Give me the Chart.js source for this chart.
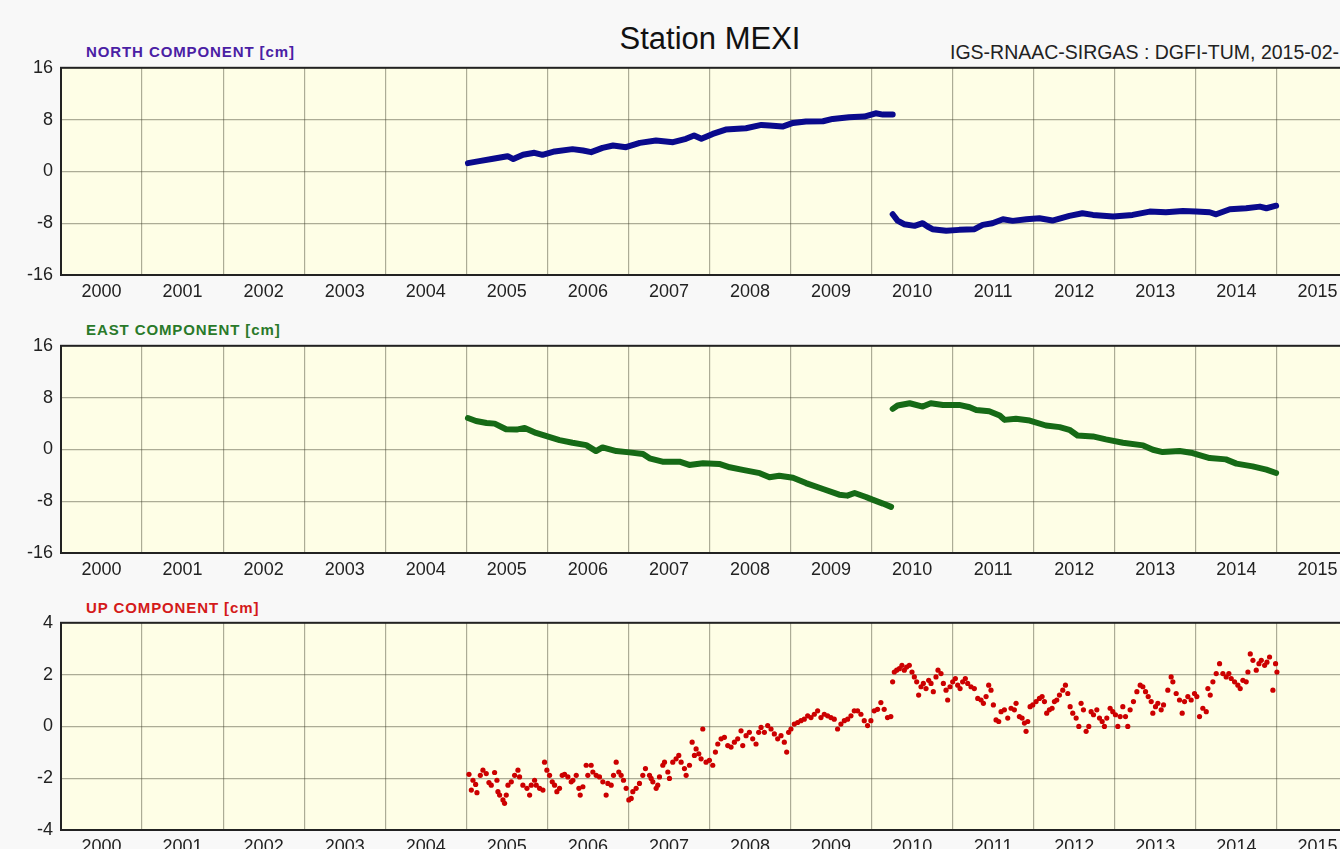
<!DOCTYPE html>
<html>
<head>
<meta charset="utf-8">
<script src="https://cdn.jsdelivr.net/npm/chart.js@4.4.1/dist/chart.umd.min.js"></script>
<style>
  body { margin: 0; background: #f8f8f8; overflow: hidden; width: 1340px; height: 849px; position: relative;
         font-family: "Liberation Sans", Arial, sans-serif; }
  .panel { position: absolute; left: 0; }
  .comp { position: absolute; left: 86px; font-weight: bold; font-size: 15px; line-height: 18px; letter-spacing: 0.9px; white-space: nowrap; }
  #title { position: absolute; left: 0; width: 1420px; top: 23px; text-align: center; font-size: 31px; line-height: 32px; color: #111; }
  #source { position: absolute; left: 950px; top: 41px; font-size: 19.5px; line-height: 22px; color: #222; white-space: nowrap; }
</style>
</head>
<body>
<div id="title">Station MEXI</div>
<div id="source">IGS-RNAAC-SIRGAS : DGFI-TUM, 2015-02-</div>

<div class="comp" style="top:43px;color:#4a20a4">NORTH COMPONENT [cm]</div>
<div class="comp" style="top:321px;color:#2a7a2a">EAST COMPONENT [cm]</div>
<div class="comp" style="top:599px;color:#d41a1a">UP COMPONENT [cm]</div>

<canvas id="north" class="panel" width="1400" height="251" style="top:49px"></canvas>
<canvas id="east" class="panel" width="1400" height="251" style="top:327px"></canvas>
<canvas id="up" class="panel" width="1400" height="251" style="top:604px"></canvas>

<script>
"use strict";

// station coordinate time series (decimal years / cm)
var northYears1 = [2005.02,2005.16,2005.33,2005.49,2005.51,2005.58,2005.70,2005.84,2005.94,2006.09,2006.31,2006.44,2006.54,2006.68,2006.81,2006.97,2007.14,2007.34,2007.55,2007.71,2007.81,2007.90,2008.04,2008.20,2008.45,2008.64,2008.74,2008.90,2009.03,2009.19,2009.40,2009.52,2009.72,2009.91,2010.05,2010.14,2010.26];
var northValues1 = [1.28,1.59,1.95,2.31,2.35,1.9,2.56,2.87,2.56,3.08,3.44,3.23,2.97,3.64,4.0,3.74,4.41,4.77,4.51,5.03,5.54,5.03,5.79,6.46,6.67,7.18,7.08,6.92,7.49,7.69,7.74,8.1,8.36,8.46,8.97,8.77,8.77];
var northYears2 = [2010.26,2010.32,2010.40,2010.53,2010.63,2010.69,2010.75,2010.92,2011.08,2011.27,2011.37,2011.49,2011.62,2011.74,2011.91,2012.07,2012.23,2012.44,2012.60,2012.73,2012.98,2013.22,2013.43,2013.63,2013.84,2014.00,2014.17,2014.25,2014.42,2014.62,2014.79,2014.87,2014.99];
var northValues2 = [-6.62,-7.59,-8.15,-8.41,-8.0,-8.51,-8.92,-9.18,-9.03,-8.92,-8.26,-8.0,-7.38,-7.64,-7.38,-7.23,-7.59,-6.87,-6.46,-6.72,-6.97,-6.72,-6.21,-6.31,-6.1,-6.21,-6.31,-6.62,-5.85,-5.69,-5.44,-5.69,-5.3];

var eastYears1 = [2005.02,2005.12,2005.25,2005.35,2005.49,2005.62,2005.72,2005.86,2005.99,2006.15,2006.31,2006.48,2006.60,2006.68,2006.85,2007.01,2007.18,2007.26,2007.42,2007.63,2007.75,2007.92,2008.12,2008.25,2008.41,2008.62,2008.74,2008.86,2009.03,2009.19,2009.40,2009.60,2009.70,2009.79,2009.93,2010.01,2010.14,2010.24];
var eastValues1 = [4.85,4.39,4.08,3.98,3.11,3.06,3.32,2.55,2.04,1.43,1.02,0.66,-0.26,0.31,-0.26,-0.46,-0.71,-1.38,-1.89,-1.89,-2.4,-2.14,-2.24,-2.76,-3.16,-3.67,-4.29,-4.08,-4.39,-5.2,-6.12,-6.99,-7.14,-6.73,-7.35,-7.76,-8.37,-8.88];
var eastYears2 = [2010.26,2010.32,2010.47,2010.63,2010.73,2010.88,2011.08,2011.21,2011.29,2011.45,2011.58,2011.64,2011.78,2011.95,2012.15,2012.32,2012.44,2012.54,2012.73,2012.89,2013.10,2013.35,2013.47,2013.59,2013.80,2013.96,2014.17,2014.37,2014.50,2014.70,2014.87,2014.99];
var eastValues2 = [6.26,6.77,7.13,6.62,7.13,6.87,6.87,6.51,6.1,5.9,5.23,4.56,4.72,4.46,3.69,3.44,3.03,2.15,2.0,1.54,1.03,0.62,-0.05,-0.41,-0.26,-0.56,-1.33,-1.54,-2.2,-2.62,-3.13,-3.64];

var upYears = [2005.033,2005.082,2005.062,2005.115,2005.131,2005.173,2005.205,2005.246,2005.279,2005.308,2005.349,2005.378,2005.390,2005.411,2005.452,2005.472,2005.493,2005.514,2005.555,2005.596,2005.637,2005.657,2005.698,2005.748,2005.781,2005.801,2005.842,2005.863,2005.904,2005.945,2005.965,2005.994,2006.027,2006.060,2006.089,2006.117,2006.150,2006.183,2006.212,2006.253,2006.294,2006.315,2006.356,2006.389,2006.405,2006.438,2006.479,2006.499,2006.540,2006.561,2006.602,2006.643,2006.684,2006.725,2006.746,2006.787,2006.816,2006.849,2006.881,2006.910,2006.939,2006.972,2007.005,2007.034,2007.054,2007.095,2007.136,2007.177,2007.210,2007.260,2007.280,2007.301,2007.342,2007.362,2007.383,2007.424,2007.445,2007.486,2007.506,2007.547,2007.588,2007.621,2007.650,2007.691,2007.712,2007.753,2007.786,2007.814,2007.835,2007.868,2007.896,2007.917,2007.958,2007.999,2008.040,2008.073,2008.102,2008.143,2008.184,2008.225,2008.266,2008.307,2008.348,2008.389,2008.410,2008.451,2008.492,2008.533,2008.574,2008.607,2008.636,2008.677,2008.718,2008.759,2008.800,2008.841,2008.882,2008.923,2008.952,2008.976,2009.005,2009.046,2009.087,2009.128,2009.169,2009.211,2009.252,2009.293,2009.334,2009.375,2009.416,2009.457,2009.498,2009.539,2009.580,2009.621,2009.663,2009.704,2009.745,2009.786,2009.827,2009.868,2009.909,2009.950,2009.991,2010.032,2010.073,2010.114,2010.155,2010.196,2010.237,
  2010.259,2010.280,2010.309,2010.342,2010.374,2010.403,2010.432,2010.465,2010.498,2010.527,2010.556,2010.580,2010.609,2010.638,2010.671,2010.704,2010.733,2010.761,2010.794,2010.819,2010.856,2010.885,2010.918,2010.938,2010.967,2011.000,2011.033,2011.062,2011.091,2011.123,2011.156,2011.185,2011.226,2011.267,2011.309,2011.350,2011.379,2011.412,2011.444,2011.473,2011.502,2011.535,2011.568,2011.597,2011.638,2011.679,2011.720,2011.761,2011.782,2011.823,2011.856,2011.885,2011.905,2011.926,2011.955,2011.988,2012.029,2012.070,2012.103,2012.132,2012.160,2012.193,2012.226,2012.255,2012.284,2012.317,2012.358,2012.391,2012.420,2012.449,2012.481,2012.523,2012.556,2012.584,2012.613,2012.646,2012.679,2012.708,2012.737,2012.778,2012.811,2012.844,2012.872,2012.901,2012.942,2012.975,2013.008,2013.037,2013.066,2013.099,2013.132,2013.160,2013.189,2013.230,2013.272,2013.313,2013.346,2013.379,2013.412,2013.449,2013.469,2013.502,2013.531,2013.572,2013.601,2013.654,2013.695,2013.716,2013.757,2013.798,2013.831,2013.860,2013.901,2013.942,2013.983,2014.012,2014.045,2014.086,2014.128,2014.148,2014.177,2014.210,2014.251,2014.292,2014.333,2014.374,2014.407,2014.436,2014.477,2014.518,2014.547,2014.580,2014.621,2014.642,2014.671,2014.704,2014.745,2014.778,2014.807,2014.848,2014.877,2014.909,2014.950,2014.983,2015.000];
var upValues = [-1.85,-2.08,-2.46,-2.24,-2.56,-1.89,-1.69,-1.82,-2.17,-2.27,-1.78,-2.08,-2.52,-2.65,-2.84,-2.97,-2.65,-2.27,-2.14,-1.89,-1.69,-1.95,-2.27,-2.39,-2.65,-2.27,-2.08,-2.27,-2.39,-2.46,-1.38,-1.69,-1.89,-2.14,-2.27,-2.52,-2.39,-1.89,-1.85,-1.95,-2.14,-2.08,-1.89,-2.39,-2.65,-2.33,-1.50,-1.89,-1.50,-1.76,-1.89,-1.95,-2.14,-2.65,-2.20,-2.27,-1.89,-1.38,-1.76,-1.89,-2.08,-2.39,-2.84,-2.78,-2.52,-2.39,-2.20,-1.89,-1.63,-1.89,-2.01,-2.14,-2.39,-2.27,-1.95,-1.50,-1.38,-1.76,-2.01,-1.38,-1.25,-1.12,-1.38,-1.63,-1.89,-1.50,-0.61,-1.12,-0.87,-1.06,-1.25,-0.10,-1.38,-1.31,-1.50,-0.99,-0.68,-0.48,-0.42,-0.74,-0.80,-0.61,-0.48,-0.17,-0.74,-0.36,-0.23,-0.48,-0.68,-0.23,-0.04,-0.23,0.03,-0.10,-0.29,-0.48,-0.36,-0.61,-0.99,-0.23,-0.10,0.09,0.15,0.22,0.28,0.41,0.34,0.47,0.60,0.34,0.47,0.41,0.34,0.28,-0.10,0.09,0.22,0.28,0.41,0.60,0.60,0.47,0.22,0.03,0.22,0.60,0.66,0.92,0.66,0.34,0.38,
  1.72,2.10,2.17,2.23,2.36,2.17,2.29,2.36,2.10,1.91,1.72,1.21,1.53,1.66,1.46,1.78,1.66,1.34,1.91,2.17,2.04,1.66,1.40,1.02,1.53,1.72,1.85,1.59,1.46,1.72,1.85,1.66,1.53,1.46,1.08,1.02,0.89,1.15,1.59,1.40,0.83,0.25,0.19,0.57,0.64,0.32,0.70,0.64,0.89,0.38,0.32,0.13,-0.19,0.19,0.76,0.83,0.96,1.08,1.15,0.96,0.51,0.64,0.70,0.96,1.02,1.21,1.40,1.59,1.27,0.76,0.51,0.32,0.00,0.89,0.64,-0.19,0.00,0.57,0.45,0.64,0.32,0.19,0.00,0.32,0.70,0.57,0.45,0.00,0.38,0.76,0.38,0.00,0.64,0.96,1.34,1.59,1.53,1.34,1.15,0.96,0.51,0.76,0.89,0.64,0.83,1.40,1.91,1.72,1.27,1.02,0.51,0.96,1.15,1.02,1.27,1.15,0.38,0.70,0.57,1.46,1.21,1.72,2.04,2.42,2.04,1.91,2.04,1.85,1.72,1.59,1.46,1.78,1.72,2.10,2.80,2.55,2.17,2.42,2.55,2.36,2.48,2.68,1.40,2.42,2.10];

var yearMin = 2000, yearMax = 2016;
var bigTicks = [-16, -8, 0, 8, 16];
var upTicks = [-4, -2, 0, 2, 4];

var plotBackground = '#fefee6';
var northColor = '#0a0a8c';
var eastColor = '#166a16';
var upColor = '#cc0000';

function toPoints(xs, ys) {
	var pts = [];
	for (var i = 0; i < xs.length; i++) {
		pts.push({ x: xs[i], y: ys[i] });
	}
	return pts;
}

// fills the plot area and draws the black frame around it
var framePlugin = {
	id: 'frame',
	beforeDraw: function(chart) {
		var a = chart.chartArea, ctx = chart.ctx;
		ctx.save();
		ctx.fillStyle = plotBackground;
		ctx.fillRect(a.left, a.top, a.right - a.left, a.bottom - a.top);
		ctx.restore();
	},
	afterDraw: function(chart) {
		var a = chart.chartArea, ctx = chart.ctx;
		ctx.save();
		ctx.strokeStyle = '#222';
		ctx.lineWidth = 2;
		ctx.strokeRect(a.left, a.top, a.right - a.left, a.bottom - a.top);
		ctx.restore();
	}
};

function lineSet(xs, ys, color) {
	return {
		data: toPoints(xs, ys),
		showLine: true,
		borderColor: color,
		backgroundColor: color,
		borderWidth: 6,
		borderCapStyle: 'round',
		borderJoinStyle: 'round',
		pointRadius: 0,
		tension: 0
	};
}

function makePanel(id, datasets, yTicks) {
	var ctx = document.getElementById(id).getContext('2d');
	return new Chart(ctx, {
		type: 'scatter',
		data: { datasets: datasets },
		options: {
			responsive: false,
			animation: false,
			layout: { padding: { top: 0, right: 42, left: 0, bottom: 0 } },
			plugins: { legend: { display: false }, tooltip: { enabled: false } },
			scales: {
				x: {
					type: 'linear',
					min: yearMin,
					max: yearMax,
					afterFit: function(s) { s.height = 25; },
					border: { display: false },
					grid: { color: 'rgba(60,60,40,0.42)', lineWidth: 1.2, drawTicks: false },
					ticks: {
						stepSize: 1,
						padding: 6,
						labelOffset: 40.5,
						maxRotation: 0,
						autoSkip: false,
						color: '#222',
						font: { family: '"Liberation Sans", Arial, sans-serif', size: 18 },
						callback: function(v) { return v < yearMax ? String(v) : ''; }
					}
				},
				y: {
					min: yTicks[0],
					max: yTicks[yTicks.length - 1],
					afterFit: function(s) { s.width = 61; },
					afterBuildTicks: function(s) {
						s.ticks = yTicks.map(function(v) { return { value: v }; });
					},
					border: { display: false },
					grid: { color: 'rgba(60,60,40,0.42)', lineWidth: 1.2, drawTicks: false },
					ticks: {
						padding: 8,
						color: '#222',
						font: { family: '"Liberation Sans", Arial, sans-serif', size: 18 },
						callback: function(v) { return String(v); }
					}
				}
			}
		},
		plugins: [framePlugin]
	});
}

makePanel('north', [
	lineSet(northYears1, northValues1, northColor),
	lineSet(northYears2, northValues2, northColor)
], bigTicks);

makePanel('east', [
	lineSet(eastYears1, eastValues1, eastColor),
	lineSet(eastYears2, eastValues2, eastColor)
], bigTicks);

makePanel('up', [{
	data: toPoints(upYears, upValues),
	backgroundColor: upColor,
	borderWidth: 0,
	pointRadius: 2.6
}], upTicks);
</script>
</body>
</html>
